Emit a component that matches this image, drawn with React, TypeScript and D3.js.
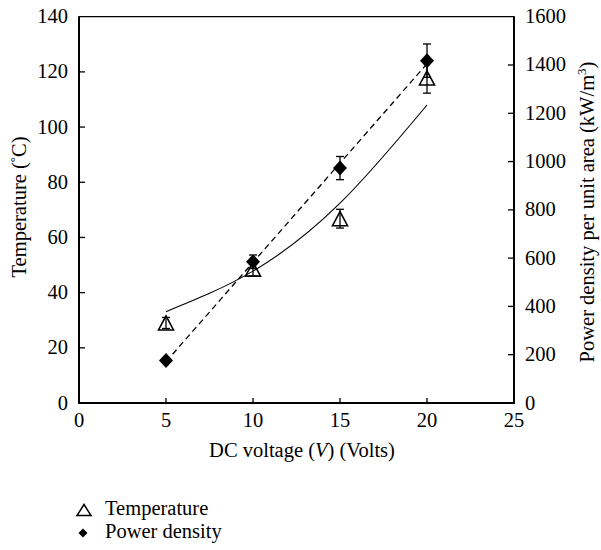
import React from "react";
import * as d3 from "d3";

const voltages = [5, 10, 15, 20];
const temperature = [29, 48.5, 66.8, 117.8];
const temperatureErr = [2, 2.5, 3.4, 5.5];
const powerDensity = [176, 585, 973, 1418];
const powerDensityErr = [10, 28, 48, 69];
// solid trend curve for temperature
const tempFitX = [5, 10, 15, 20];
const tempFitY = [33.1, 47.8, 72.4, 108];
const xTicks = [0, 5, 10, 15, 20, 25];
const leftTicks = [0, 20, 40, 60, 80, 100, 120, 140];
const rightTicks = [0, 200, 400, 600, 800, 1000, 1200, 1400, 1600];

const W = 601;
const H = 550;
const L = 79;
const R = 514;
const T = 16.7;
const B = 403;
const FONT = "Liberation Serif";
const FS = 20.5;

export default function App() {
  const x = d3.scaleLinear().domain([0, 25]).range([L, R]);
  const yL = d3.scaleLinear().domain([0, 140]).range([B, T]);
  const yR = d3.scaleLinear().domain([0, 1600]).range([B, T]);

  const mx = d3.mean(voltages)!;
  const my = d3.mean(powerDensity)!;
  const sxy = d3.sum(voltages, (v, i) => (v - mx) * (powerDensity[i] - my));
  const sxx = d3.sum(voltages, (v) => (v - mx) * (v - mx));
  const slope = sxy / sxx;
  const icpt = my - slope * mx;
  const x0 = voltages[0];
  const x1 = voltages[voltages.length - 1];

  const curve = d3
    .line<number>()
    .x((_, i) => x(tempFitX[i]))
    .y((d) => yL(d))
    .curve(d3.curveNatural);

  const tri = (cx: number, cy: number, w = 15, h = 14) =>
    `M${cx},${cy - h / 2}L${cx + w / 2},${cy + h / 2}L${cx - w / 2},${cy + h / 2}Z`;
  const dia = (cx: number, cy: number, w = 14, h = 15) =>
    `M${cx},${cy - h / 2}L${cx + w / 2},${cy}L${cx},${cy + h / 2}L${cx - w / 2},${cy}Z`;

  const errBar = (cx: number, ylo: number, yhi: number, key: string) => (
    <g key={key} stroke="#000" strokeWidth={1.3}>
      <line x1={cx} x2={cx} y1={ylo} y2={yhi} />
      <line x1={cx - 4} x2={cx + 4} y1={ylo} y2={ylo} />
      <line x1={cx - 4} x2={cx + 4} y1={yhi} y2={yhi} />
    </g>
  );

  const ts = { fontFamily: FONT, fontSize: FS };
  const sup = { fontSize: 13 };

  return (
    <svg
      width={W}
      height={H}
      style={{ position: "absolute", left: 0, top: 0, background: "#fff", fontFamily: FONT }}
    >
      <rect width={W} height={H} fill="#fff" />
      <line x1={L} x2={R} y1={T} y2={T} stroke="#000" strokeWidth={1.3} />
      <line x1={L} x2={L} y1={T - 0.5} y2={B + 1} stroke="#000" strokeWidth={2} />
      <line x1={R} x2={R} y1={T - 0.5} y2={B + 1} stroke="#000" strokeWidth={2} />
      <line x1={L - 1} x2={R + 1} y1={B} y2={B} stroke="#000" strokeWidth={2} />

      {xTicks.map((t) => (
        <g key={"xt" + t}>
          {t > 0 && t < 25 && (
            <line x1={x(t)} x2={x(t)} y1={B} y2={B - 5} stroke="#000" strokeWidth={1.3} />
          )}
          <text x={x(t)} y={B + 24} style={ts} textAnchor="middle">
            {t}
          </text>
        </g>
      ))}
      {leftTicks.map((t) => (
        <g key={"lt" + t}>
          {t > 0 && t < 140 && (
            <line x1={L} x2={L + 6} y1={yL(t)} y2={yL(t)} stroke="#000" strokeWidth={1.3} />
          )}
          <text x={L - 11} y={yL(t) + 6.5} style={ts} textAnchor="end">
            {t}
          </text>
        </g>
      ))}
      {rightTicks.map((t) => (
        <g key={"rt" + t}>
          {t > 0 && t < 1600 && (
            <line x1={R} x2={R - 6} y1={yR(t)} y2={yR(t)} stroke="#000" strokeWidth={1.3} />
          )}
          <text x={R + 11} y={yR(t) + 6.5} style={ts} textAnchor="start">
            {t}
          </text>
        </g>
      ))}

      <text x={302} y={457} style={ts} textAnchor="middle">
        DC voltage (<tspan fontStyle="italic">V</tspan>) (Volts)
      </text>
      <text
        transform={`translate(26,207) rotate(-90)`}
        style={ts}
        textAnchor="middle"
      >
        Temperature (
        <tspan style={sup} dy={-7}>
          °
        </tspan>
        <tspan dy={7}>C)</tspan>
      </text>
      <text
        transform={`translate(594,212) rotate(-90)`}
        style={ts}
        textAnchor="middle"
      >
        Power density per unit area (kW/m
        <tspan style={sup} dy={-8}>
          3
        </tspan>
        <tspan dy={8}>)</tspan>
      </text>

      <path d={curve(tempFitY) || ""} fill="none" stroke="#000" strokeWidth={1.1} />
      <line
        x1={x(x0)}
        y1={yR(icpt + slope * x0)}
        x2={x(x1)}
        y2={yR(icpt + slope * x1)}
        stroke="#000"
        strokeWidth={1.3}
        strokeDasharray="6,4"
      />

      {voltages.map((v, i) =>
        errBar(x(v), yL(temperature[i] - temperatureErr[i]), yL(temperature[i] + temperatureErr[i]), "te" + i)
      )}
      {voltages.map((v, i) => (
        <path
          key={"tri" + i}
          d={tri(x(v), yL(temperature[i]))}
          fill="none"
          stroke="#000"
          strokeWidth={1.6}
        />
      ))}

      {voltages.map((v, i) =>
        errBar(x(v), yR(powerDensity[i] - powerDensityErr[i]), yR(powerDensity[i] + powerDensityErr[i]), "pe" + i)
      )}
      {voltages.map((v, i) => (
        <path key={"dia" + i} d={dia(x(v), yR(powerDensity[i]))} fill="#000" />
      ))}

      <path d={tri(84, 510, 14, 11)} fill="none" stroke="#000" strokeWidth={1.5} />
      <text x={105} y={515} style={ts}>
        Temperature
      </text>
      <path d={dia(83, 533, 9, 9)} fill="#000" />
      <text x={105} y={538} style={ts}>
        Power density
      </text>
    </svg>
  );
}
